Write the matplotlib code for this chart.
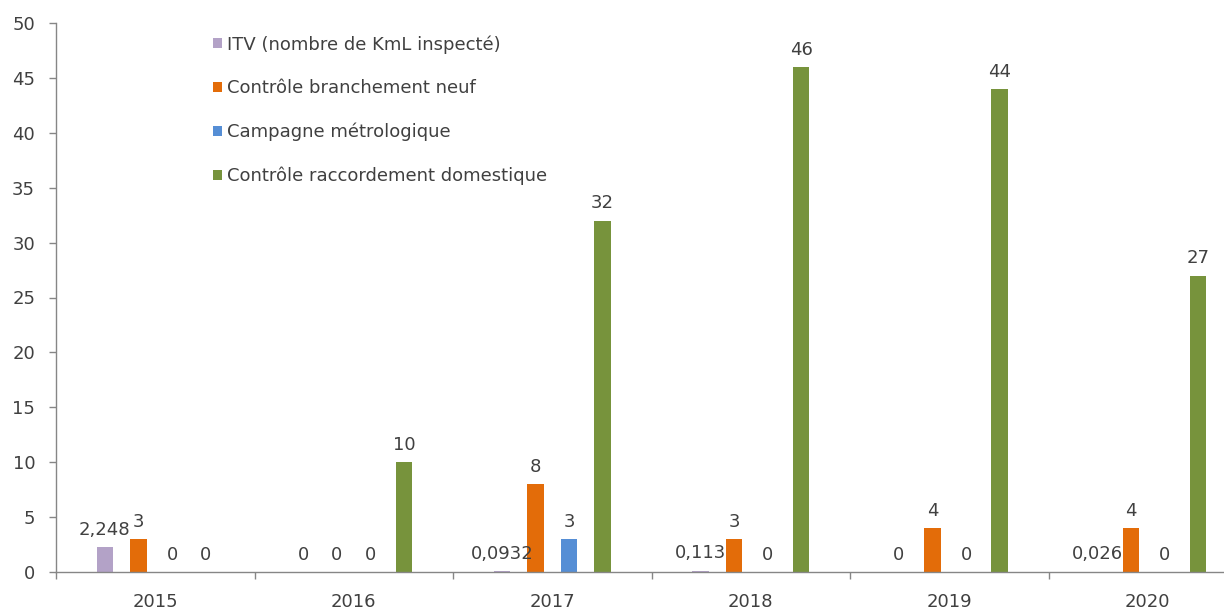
import numpy as np
import matplotlib.pyplot as plt
from matplotlib.ticker import FixedLocator

plt.rcParams['font.family'] = ['DejaVu Sans']

years = ['2015', '2016', '2017', '2018', '2019', '2020']
series_names = ['ITV (nombre de KmL inspecté)',
                'Contrôle branchement neuf',
                'Campagne métrologique',
                'Contrôle raccordement domestique']
itv = [2.248, 0, 0.0932, 0.113, 0, 0.026]
branchement = [3, 0, 8, 3, 4, 4]
metrologie = [0, 0, 3, 0, 0, 0]
raccordement = [0, 10, 32, 46, 44, 27]
colors = ['#B3A2C7', '#E36C09', '#558ED5', '#77933C']

text_col = '#404040'
axis_col = '#868686'

fig = plt.figure(figsize=(12.24, 6.10), dpi=100)
ax = fig.add_axes([56 / 1224, 38 / 610, 6 * 198.5 / 1224, 549 / 610])

x = np.arange(len(years))
step = 0.169
width = 0.082
all_series = [itv, branchement, metrologie, raccordement]
handles = []
for i, (vals, name, col) in enumerate(zip(all_series, series_names, colors)):
    pos = x + (i - 1.5) * step
    bars = ax.bar(pos, vals, width, color=col, label=name, zorder=2)
    handles.append(bars)
    # data labels, French decimal comma
    for p, v in zip(pos, vals):
        lab = f'{v:g}'.replace('.', ',')
        ax.annotate(lab, (p, v), xytext=(0, 6), textcoords='offset points',
                    ha='center', va='bottom', fontsize=13, color=text_col)

ax.set_xlim(-0.5, len(years) - 0.5)
ax.set_ylim(0, 50)
ax.set_yticks(np.arange(0, 51, 5))

ax.set_xticks(x)
ax.set_xticklabels(years)
ax.xaxis.set_minor_locator(FixedLocator(np.arange(-0.5, len(years), 1)))
ax.tick_params(axis='x', which='major', length=0, pad=15, labelsize=13, labelcolor=text_col)
ax.tick_params(axis='x', which='minor', length=5, color=axis_col, width=1)
ax.tick_params(axis='y', length=5, color=axis_col, width=1, pad=10, labelsize=13, labelcolor=text_col)

for side in ['top', 'right']:
    ax.spines[side].set_visible(False)
for side in ['left', 'bottom']:
    ax.spines[side].set_color(axis_col)
    ax.spines[side].set_linewidth(1)

fig.legend(handles=handles, loc='upper left',
           bbox_to_anchor=(213 / 1224, 1 - 35 / 610),
           frameon=False, fontsize=13, handlelength=0.5, handleheight=0.5,
           handletextpad=0.3, labelspacing=1.42, borderpad=0, borderaxespad=0,
           labelcolor=text_col)

fig.savefig('out.png', dpi=100)
